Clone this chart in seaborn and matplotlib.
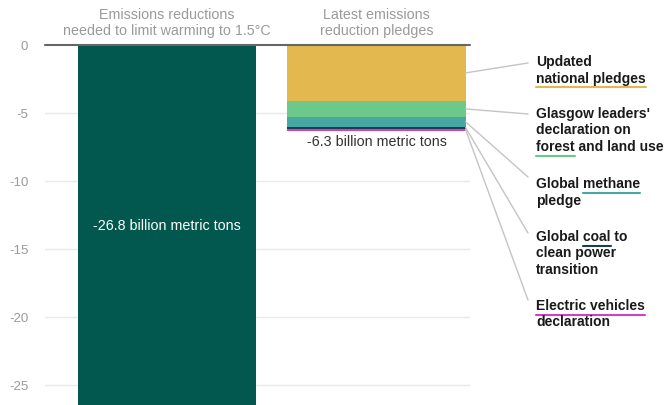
import matplotlib
matplotlib.use("Agg")
import matplotlib.pyplot as plt
import seaborn as sns
import pandas as pd

# values (billion metric tons)
needed_label = "Emissions reductions\nneeded to limit warming to 1.5°C"
pledges_label = "Latest emissions\nreduction pledges"
needed_total = -26.8
pledge_names = ["Updated national pledges",
                "Glasgow leaders' declaration on forest and land use",
                "Global methane pledge",
                "Global coal to clean power transition",
                "Electric vehicles declaration"]
pledge_values = [-4.1, -1.2, -0.7, -0.15, -0.15]
pledge_total = -6.3
yticks = [0, -5, -10, -15, -20, -25]

colors = ["#e3b94f", "#6cc98a", "#47a7a2", "#1d3f4c", "#d43fc4"]
dark_green = "#02584e"

sns.set_theme(style="white")
plt.rcParams["font.family"] = ["Liberation Sans", "DejaVu Sans"]

fig = plt.figure(figsize=(6.72, 4.05), dpi=100)
W, H = 672, 405
ax = fig.add_axes([45 / W, 0, (470 - 45) / W, 1 - 45 / H])

cats = [needed_label, pledges_label]
bw = 0.85
bar_kw = dict(order=cats, width=bw, ax=ax, saturation=1, linewidth=0,
              edgecolor="none", zorder=2)

# left bar
sns.barplot(x=[needed_label], y=[needed_total], color=dark_green, **bar_kw)

# stacked right bar: draw cumulative totals from deepest up
cum = []
s = 0
for v in pledge_values:
    s += v
    cum.append(s)
for i in reversed(range(len(cum))):
    sns.barplot(x=[pledges_label], y=[cum[i]], color=colors[i], **bar_kw)

ax.set_xlim(-0.581, 1.446)
ax.set_ylim(-26.47, 0)
ax.set_yticks(yticks)
ax.set_yticklabels([str(t) for t in yticks], color="#9a9a9a", fontsize=9.5)
ax.tick_params(axis="y", length=0, pad=12)
ax.set_xticks([])
ax.set_xlabel("")
ax.set_ylabel("")
for sp in ax.spines.values():
    sp.set_visible(False)
for t in yticks[1:]:
    ax.axhline(t, color="#e8e8e8", lw=1, zorder=1)
ax.axhline(0, color="#666666", lw=1.5, zorder=3, clip_on=False)

# header labels above bars
for i, c in enumerate(cats):
    ax.text(i, 0.5, c, ha="center", va="bottom", color="#9a9a9a",
            fontsize=10.3, linespacing=1.2)

ax.text(0, -13.3, f"{needed_total} billion metric tons", ha="center",
        va="center", color="white", fontsize=10.3)
ax.text(1, pledge_total - 0.35, f"{pledge_total} billion metric tons",
        ha="center", va="top", color="#333333", fontsize=10.3)

# callout labels on the right
labels = [
    (["Updated", "national pledges"], (1, 0, 16), 63),
    (["Glasgow leaders'", "declaration on", "forest and land use"], (2, 0, 6), 114),
    (["Global methane", "pledge"], (0, 7, 14), 177),
    (["Global coal to", "clean power", "transition"], (0, 7, 11), 233),
    (["Electric vehicles", "declaration"], (0, 0, 17), 300),
]
text_x = 536
first_y = [62, 114, 184, 237, 306]
line_h = 16.5
fs = 10
renderer = fig.canvas.get_renderer()
bottoms = [0] + cum
for k, (lines, (ul_line, ul_start, ul_end), end_y) in enumerate(labels):
    mid = (bottoms[k] + bottoms[k + 1]) / 2
    ax.annotate("", xy=(1 + bw / 2, mid), xycoords="data",
                xytext=(528 / W, 1 - end_y / H), textcoords="figure fraction",
                arrowprops=dict(arrowstyle="-", color="#c4c4c4", lw=1,
                                shrinkA=0, shrinkB=0), annotation_clip=False)
    for j, line in enumerate(lines):
        y = first_y[k] + j * line_h
        fig.text(text_x / W, 1 - y / H, line, ha="left", va="center",
                 fontsize=fs, fontweight="bold", color="#1a1a1a")
        if j == ul_line:
            x0 = 0
            if ul_start:
                pre = fig.text(0, 0, line[:ul_start], fontsize=fs, fontweight="bold")
                x0 = pre.get_window_extent(renderer).width
                pre.remove()
            word = fig.text(0, 0, line[:ul_end], fontsize=fs, fontweight="bold")
            x1 = word.get_window_extent(renderer).width
            word.remove()
            uy = 1 - (y + 8.5) / H
            fig.add_artist(plt.Line2D([(text_x + x0) / W, (text_x + x1) / W],
                                      [uy, uy], color=colors[k], lw=1.5))

fig.savefig("out.png", dpi=100)
